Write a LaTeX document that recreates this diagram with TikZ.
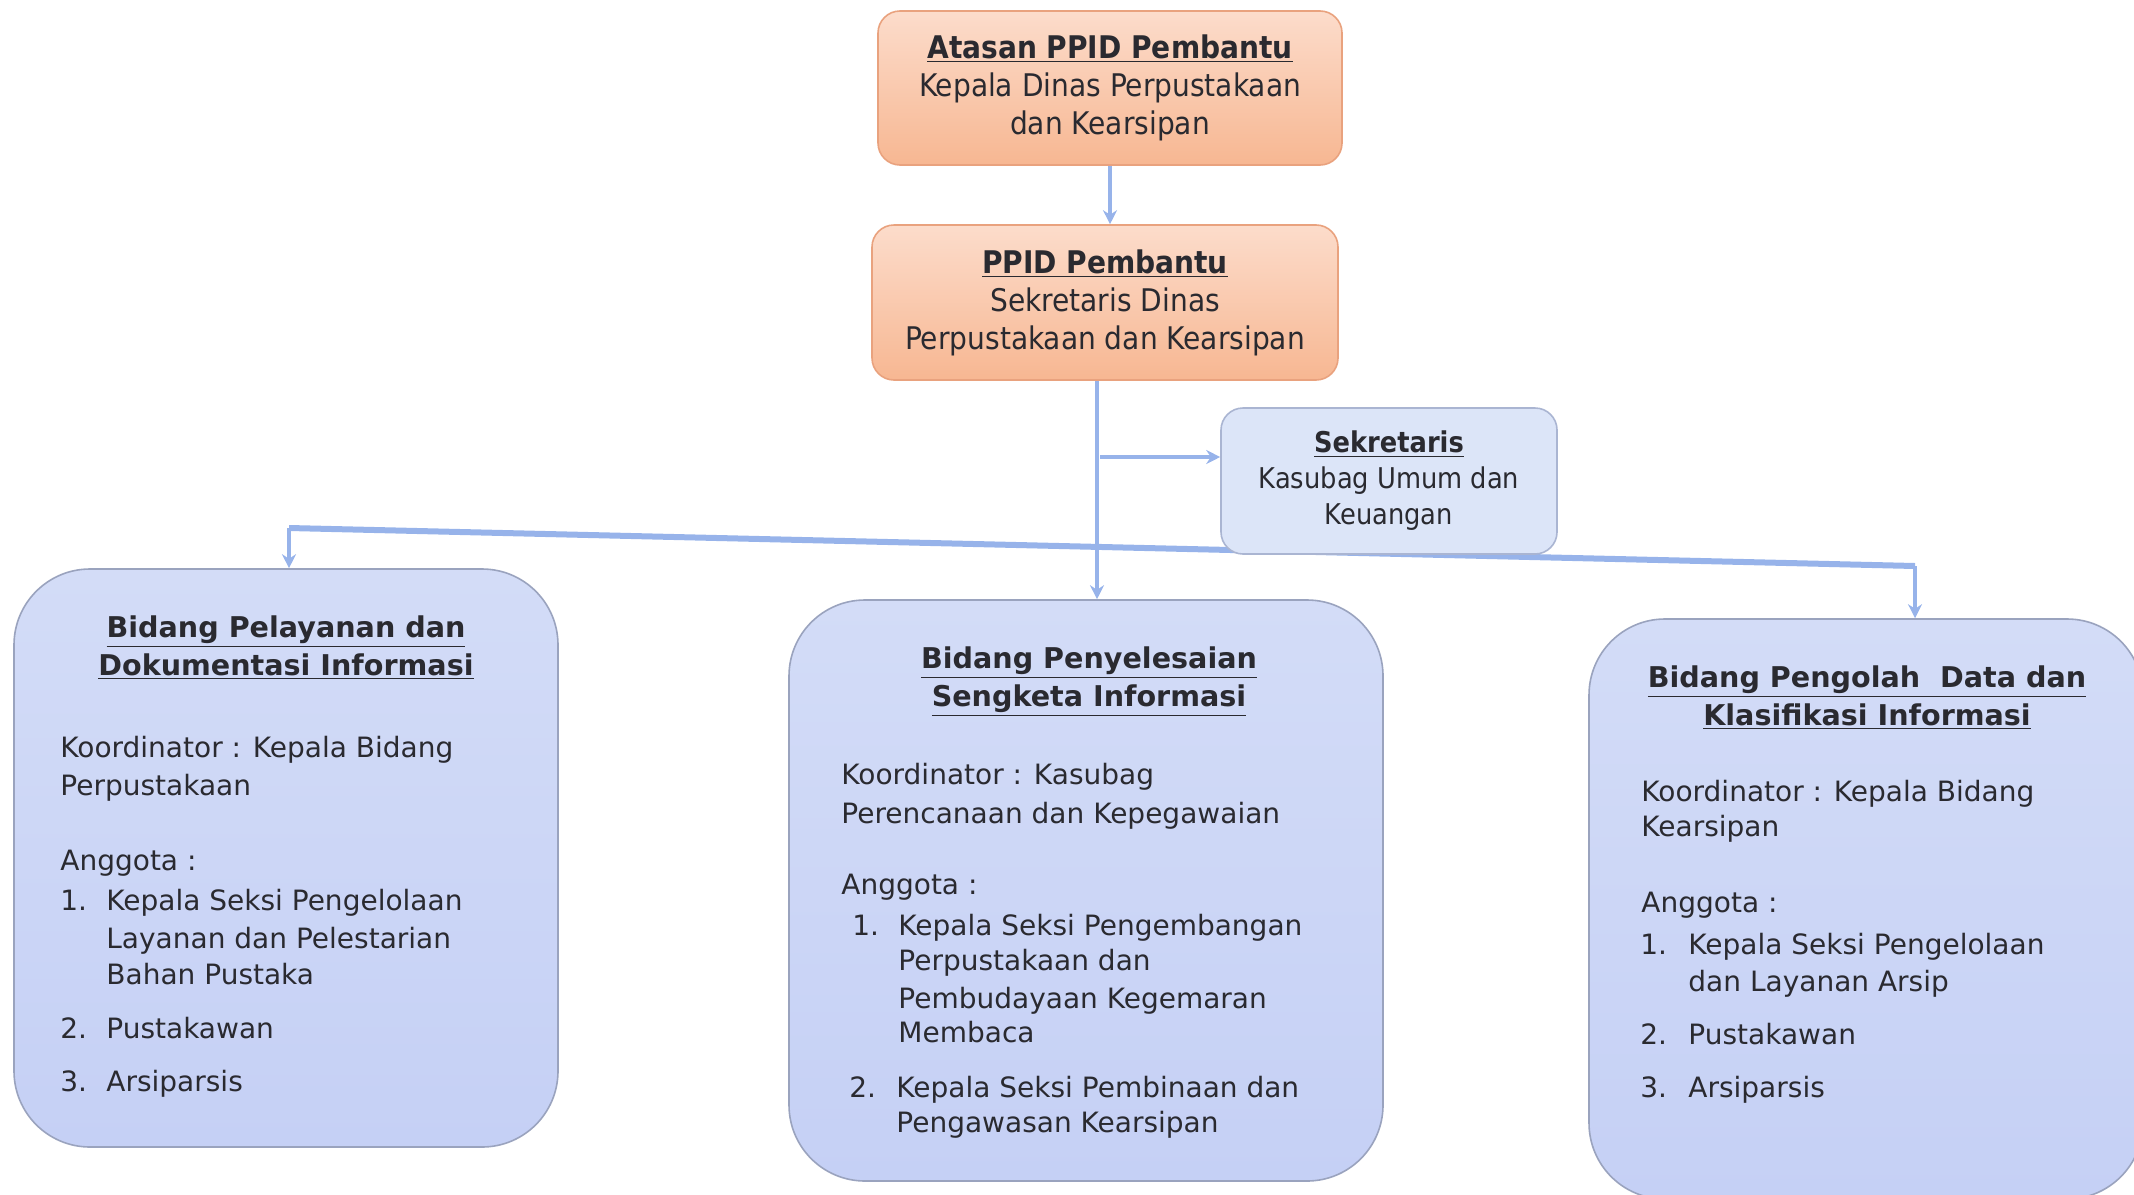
\documentclass[tikz,border=0pt]{standalone}
\usepackage{fontspec}
\setmainfont{DejaVu Sans}
\newfontfamily\condf{DejaVu Sans Condensed}
\usetikzlibrary{arrows.meta,backgrounds}
\definecolor{lnc}{HTML}{97B3EA}
\definecolor{txt}{HTML}{2A2A30}
\definecolor{orgtop}{HTML}{FCDCCB}
\definecolor{orgbot}{HTML}{F7B792}
\definecolor{orgdraw}{HTML}{E9A27E}
\definecolor{blfill}{HTML}{C5D0F5}
\definecolor{bltop}{HTML}{D3DCF7}
\definecolor{bldraw}{HTML}{9AA3BE}
\definecolor{skfill}{HTML}{DCE5F8}
\definecolor{skdraw}{HTML}{AAB5D2}
\begin{document}
\begin{tikzpicture}[x=0.5pt,y=-0.5pt,
  orgbox/.style={draw=orgdraw, line width=0.8pt, rounded corners=11pt, top color=orgtop, bottom color=orgbot,
    align=center, text=txt, font=\condf\fontsize{15.6}{19}\selectfont, inner sep=0pt},
  skbox/.style={draw=skdraw, line width=0.8pt, rounded corners=11pt, fill=skfill,
    align=center, text=txt, font=\condf\fontsize{14.3}{18}\selectfont, inner sep=0pt},
  bigbox/.style={draw=bldraw, line width=0.8pt, rounded corners=38pt, top color=bltop, bottom color=blfill, inner sep=0pt},
  ttl/.style={align=center, text=txt, inner sep=0pt, font=\bfseries\fontsize{14.3}{19}\selectfont},
  bt/.style={anchor=base west, inner sep=0pt, text=txt, font=\fontsize{14}{19}\selectfont},
  conn/.style={draw=lnc, line width=2pt},
  arr/.style={conn, -{Stealth[length=7pt,width=7pt]}}
]
\useasboundingbox (0,0) rectangle (2134,1194);

% top boxes
\node[orgbox, minimum width=232pt, minimum height=77pt] (top) at (1110,88)
  {\textbf{\underline{Atasan PPID Pembantu}}\\Kepala Dinas Perpustakaan\\dan Kearsipan};
\node[orgbox, minimum width=233pt, minimum height=77.5pt] (ppid) at (1105,302.5)
  {\textbf{\underline{PPID Pembantu}}\\Sekretaris Dinas\\Perpustakaan dan Kearsipan};
\node[skbox, minimum width=168pt, minimum height=73pt] (sek) at (1389,481)
  {\textbf{\underline{Sekretaris}}\\Kasubag Umum dan\\Keuangan};

% big boxes
\node[bigbox, minimum width=272pt, minimum height=289pt] (lb) at (286,858) {};
\node[bigbox, minimum width=297pt, minimum height=290.5pt] (mb) at (1086,890.5) {};
\node[bigbox, minimum width=277pt, minimum height=290pt] (rb) at (1866,909) {};

% connectors
\begin{scope}[on background layer]
\draw[arr] (top.south) -- (top.south |- ppid.north);
\coordinate (vx) at (1097,0);
\draw[arr] (ppid.south -| vx) -- (mb.north -| vx);
\coordinate (b1) at (1100,457);
\draw[arr] (b1) -- (b1 -| sek.west);
\coordinate (hl) at (289,528);
\coordinate (hr) at (1915,566);
\draw[conn, line width=3pt] (hl) -- (hr);
\draw[arr] (hl) -- (hl |- lb.north);
\draw[arr] (hr) -- (hr |- rb.north);
\end{scope}

% left box text
\node[ttl] (lt) at (286,648) {\underline{Bidang Pelayanan dan}\\\underline{Dokumentasi Informasi}};
\node[bt] (l1) at (60,757) {Koordinator : Kepala Bidang};
\node[bt] (l2) at (60,795) {Perpustakaan};
\node[bt] (l3) at (60,870) {Anggota :};
\node[bt] (l4n) at (60,910) {1.};
\node[bt] (l4) at (106,910) {Kepala Seksi Pengelolaan};
\node[bt] (l5) at (106,948) {Layanan dan Pelestarian};
\node[bt] (l6) at (106,984) {Bahan Pustaka};
\node[bt] (l7n) at (60,1038) {2.};
\node[bt] (l7) at (106,1038) {Pustakawan};
\node[bt] (l8n) at (60,1091) {3.};
\node[bt] (l8) at (106,1091) {Arsiparsis};

% middle box text
\node[ttl] (mt) at (1089,682) {\underline{Bidang Penyelesaian}\\\underline{Sengketa Informasi}};
\node[bt] (m1) at (841,784) {Koordinator : Kasubag};
\node[bt] (m2) at (841,823) {Perencanaan dan Kepegawaian};
\node[bt] (m3) at (841,894) {Anggota :};
\node[bt] (m4n) at (852,935) {1.};
\node[bt] (m4) at (898,935) {Kepala Seksi Pengembangan};
\node[bt] (m5) at (898,970) {Perpustakaan dan};
\node[bt] (m6) at (898,1008) {Pembudayaan Kegemaran};
\node[bt] (m7) at (898,1042) {Membaca};
\node[bt] (m8n) at (849,1097) {2.};
\node[bt] (m8) at (896,1097) {Kepala Seksi Pembinaan dan};
\node[bt] (m9) at (896,1132) {Pengawasan Kearsipan};

% right box text
\node[ttl] (rt) at (1867,698) {\underline{Bidang Pengolah~ Data dan}\\\underline{Klasifikasi Informasi}};
\node[bt] (r1) at (1641,801) {Koordinator : Kepala Bidang};
\node[bt] (r2) at (1641,836) {Kearsipan};
\node[bt] (r3) at (1641,912) {Anggota :};
\node[bt] (r4n) at (1640,954) {1.};
\node[bt] (r4) at (1688,954) {Kepala Seksi Pengelolaan};
\node[bt] (r5) at (1688,991) {dan Layanan Arsip};
\node[bt] (r6n) at (1640,1044) {2.};
\node[bt] (r6) at (1688,1044) {Pustakawan};
\node[bt] (r7n) at (1640,1097) {3.};
\node[bt] (r7) at (1688,1097) {Arsiparsis};
\end{tikzpicture}
\end{document}
